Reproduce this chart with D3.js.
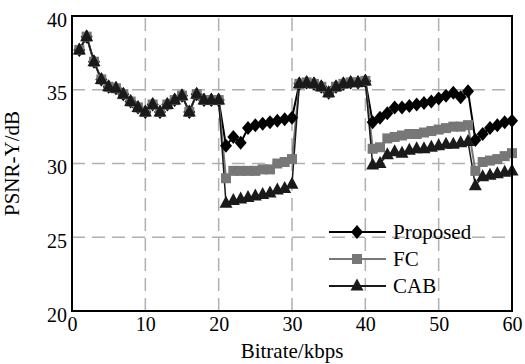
<!DOCTYPE html>
<html>
<head>
<meta charset="utf-8">
<script src="https://cdn.jsdelivr.net/npm/d3@7"></script>
<style>
  body { margin: 0; background: #fff; }
  svg { font-family: "Liberation Serif", "Times New Roman", serif; }
</style>
</head>
<body>
<div id="chart"></div>
<script>
// data
const bitrates = [1, 2, 3, 4, 5, 6, 7, 8, 9, 10, 11, 12, 13, 14, 15, 16, 17, 18, 19, 20,
  21, 22, 23, 24, 25, 26, 27, 28, 29, 30, 31, 32, 33, 34, 35, 36, 37, 38, 39, 40,
  41, 42, 43, 44, 45, 46, 47, 48, 49, 50, 51, 52, 53, 54, 55, 56, 57, 58, 59, 60];

const proposed = [37.7, 38.6, 36.9, 35.7, 35.2, 35.1, 34.7, 34.2, 33.8, 33.5, 34.0, 33.5, 34.0, 34.3, 34.6, 33.5, 34.7, 34.3, 34.3, 34.3,
  31.2, 31.8, 31.4, 32.4, 32.6, 32.7, 32.8, 32.9, 33.0, 33.1,
  35.4, 35.5, 35.4, 35.2, 34.8, 35.2, 35.4, 35.5, 35.5, 35.6,
  32.8, 33.1, 33.4, 33.8, 33.8, 33.9, 34.0, 34.1, 34.2, 34.4, 34.6, 34.8, 34.5, 34.9,
  31.6, 32.0, 32.4, 32.6, 32.8, 32.9];

const fc = [37.7, 38.6, 36.9, 35.7, 35.2, 35.1, 34.7, 34.2, 33.8, 33.5, 34.0, 33.5, 34.0, 34.3, 34.6, 33.5, 34.7, 34.3, 34.3, 34.3,
  29.0, 29.5, 29.5, 29.5, 29.5, 29.6, 29.6, 30.0, 30.1, 30.3,
  35.4, 35.5, 35.4, 35.2, 34.8, 35.2, 35.4, 35.5, 35.5, 35.6,
  31.0, 31.1, 31.7, 31.8, 31.9, 32.0, 32.0, 32.1, 32.2, 32.3, 32.4, 32.5, 32.5, 32.6,
  29.5, 30.1, 30.2, 30.3, 30.5, 30.7];

const cab = [37.7, 38.6, 36.9, 35.7, 35.2, 35.1, 34.7, 34.2, 33.8, 33.5, 34.0, 33.5, 34.0, 34.3, 34.6, 33.5, 34.7, 34.3, 34.3, 34.3,
  27.3, 27.5, 27.6, 27.7, 27.8, 27.9, 28.0, 28.2, 28.3, 28.6,
  35.4, 35.5, 35.4, 35.2, 34.8, 35.2, 35.4, 35.5, 35.5, 35.6,
  29.9, 30.0, 30.6, 30.8, 30.7, 30.9, 31.0, 31.0, 31.1, 31.2, 31.3, 31.3, 31.4, 31.5,
  28.5, 29.1, 29.2, 29.3, 29.4, 29.5];

const xTicks = [0, 10, 20, 30, 40, 50, 60];
const yTicks = [20, 25, 30, 35, 40];

const series = [
  { name: "Proposed", values: proposed, color: "#000", stroke: 2, marker: "diamond" },
  { name: "FC", values: fc, color: "#777", stroke: 2, marker: "square" },
  { name: "CAB", values: cab, color: "#1a1a1a", stroke: 1.5, marker: "triangle" }
];

const markerPath = {
  diamond: "M0,-7L6,0L0,7L-6,0Z",
  square: "M-5,-5H5V5H-5Z",
  triangle: "M0,-7.5L6.5,4.5L-6.5,4.5Z"
};

const width = 525, height = 364;
const margin = { top: 16, right: 13, bottom: 53, left: 72 };

const svg = d3.select("#chart").append("svg")
  .attr("width", width)
  .attr("height", height);

svg.append("rect").attr("width", width).attr("height", height).attr("fill", "#fff");

const x = d3.scaleLinear().domain([0, 60]).range([margin.left, width - margin.right]);
const y = d3.scaleLinear().domain([20, 40]).range([height - margin.bottom, margin.top]);

// dashed grid
svg.append("g").selectAll("line")
  .data(xTicks.slice(1, -1))
  .join("line")
  .attr("x1", d => x(d)).attr("x2", d => x(d))
  .attr("y1", y(20)).attr("y2", y(40))
  .attr("stroke", "#b0b0b0").attr("stroke-width", 1.5)
  .attr("stroke-dasharray", "13,7");

svg.append("g").selectAll("line")
  .data(yTicks.slice(1, -1))
  .join("line")
  .attr("x1", x(0)).attr("x2", x(60))
  .attr("y1", d => y(d)).attr("y2", d => y(d))
  .attr("stroke", "#b0b0b0").attr("stroke-width", 1.5)
  .attr("stroke-dasharray", "13,7");

// axes
const xAxis = svg.append("g")
  .attr("transform", `translate(0,${y(20)})`)
  .call(d3.axisBottom(x).tickValues(xTicks).tickSize(0).tickPadding(6));
const yAxis = svg.append("g")
  .attr("transform", `translate(${x(0)},0)`)
  .call(d3.axisLeft(y).tickValues(yTicks).tickSize(0).tickPadding(5));

[xAxis, yAxis].forEach(ax => {
  ax.select(".domain").remove();
  ax.selectAll("text")
    .attr("font-family", "Liberation Serif, Times New Roman, serif")
    .attr("font-size", 20)
    .attr("fill", "#000");
});
yAxis.selectAll("text").attr("dy", "0.5em");

// lines + markers
const line = d3.line()
  .x((d, i) => x(bitrates[i]))
  .y(d => y(d));

series.forEach(s => {
  svg.append("path")
    .datum(s.values)
    .attr("fill", "none")
    .attr("stroke", s.color)
    .attr("stroke-width", s.stroke)
    .attr("d", line);
});

series.forEach(s => {
  svg.append("g").selectAll("path")
    .data(s.values)
    .join("path")
    .attr("d", markerPath[s.marker])
    .attr("transform", (d, i) => `translate(${x(bitrates[i])},${y(d)})`)
    .attr("fill", s.color);
});

// frame
svg.append("rect")
  .attr("x", x(0)).attr("y", y(40))
  .attr("width", x(60) - x(0)).attr("height", y(20) - y(40))
  .attr("fill", "none").attr("stroke", "#000").attr("stroke-width", 2);

// axis titles
svg.append("text")
  .attr("x", x(30)).attr("y", 358)
  .attr("text-anchor", "middle")
  .attr("font-size", 21)
  .text("Bitrate/kbps");

svg.append("text")
  .attr("transform", `translate(19,${(y(20) + y(40)) / 2}) rotate(-90)`)
  .attr("text-anchor", "middle")
  .attr("font-size", 21)
  .text("PSNR-Y/dB");

// legend
const legend = svg.append("g").selectAll("g")
  .data(series)
  .join("g")
  .attr("transform", (d, i) => `translate(329,${232 + i * 27})`);

legend.append("line")
  .attr("x1", 0).attr("x2", 57)
  .attr("stroke", d => d.color)
  .attr("stroke-width", 2);

legend.append("path")
  .attr("d", d => markerPath[d.marker])
  .attr("transform", "translate(28,0)")
  .attr("fill", d => d.color);

legend.append("text")
  .attr("x", 64).attr("y", 7)
  .attr("font-size", 21)
  .text(d => d.name);
</script>
</body>
</html>
